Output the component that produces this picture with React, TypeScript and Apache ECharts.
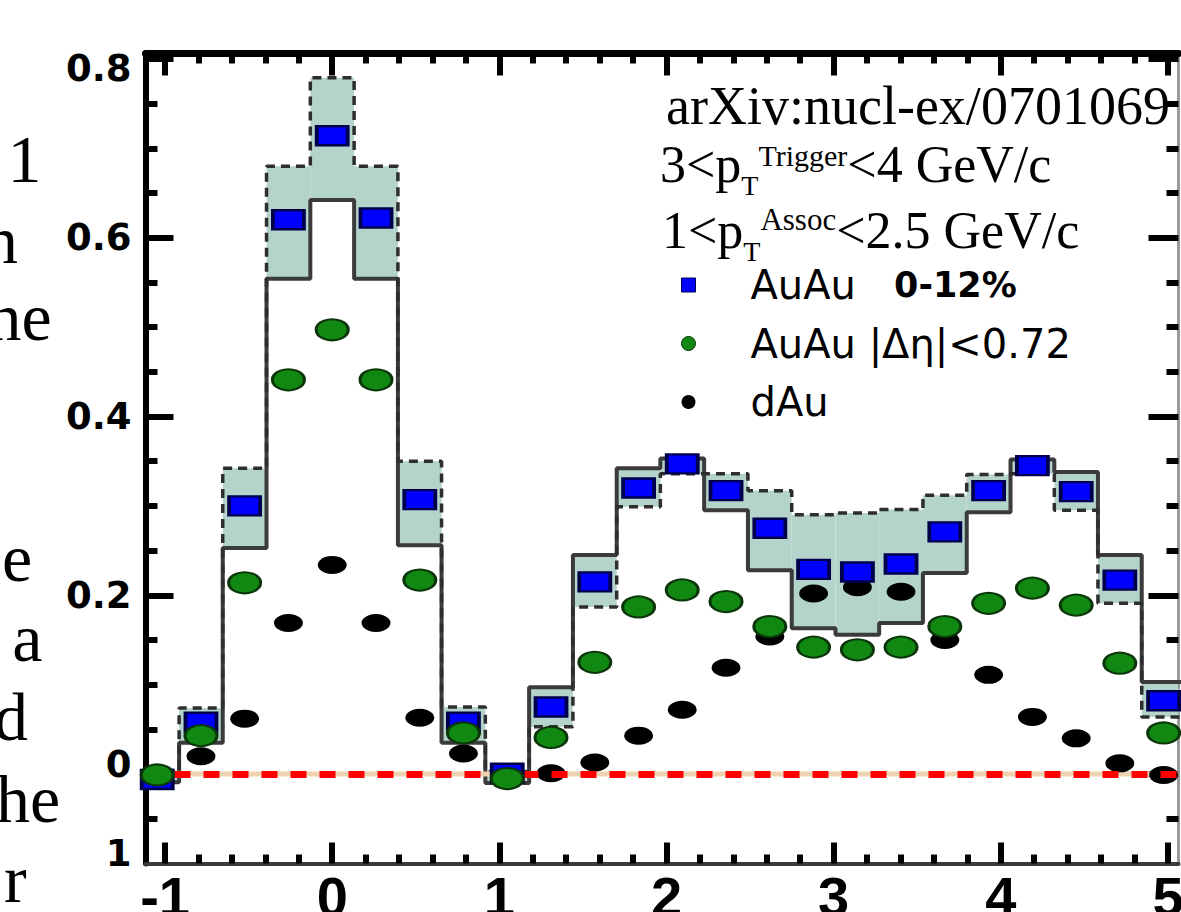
import React, { useEffect, useRef } from "react";
import * as echarts from "echarts";

// ---- data ----
// Δφ bin centres (rad); bins are π/12 wide
const BIN_CENTERS = [
  -1.047, -0.785, -0.524, -0.262, 0.0, 0.262, 0.524, 0.785, 1.047, 1.309, 1.571, 1.833,
  2.094, 2.356, 2.618, 2.88, 3.142, 3.403, 3.665, 3.927, 4.189, 4.451, 4.712, 4.974,
];
const BIN_HALF_WIDTH = 0.1309;

const AUAU_CENTRAL = [
  -0.006, 0.058, 0.3, 0.62, 0.714, 0.622, 0.307, 0.058, 0.001, 0.075, 0.215, 0.32,
  0.347, 0.317, 0.275, 0.229, 0.226, 0.235, 0.271, 0.317, 0.345, 0.316, 0.217, 0.082,
];
const AUAU_DETA = [
  -0.001, 0.043, 0.214, 0.441, 0.497, 0.441, 0.217, 0.046, -0.005, 0.041, 0.125, 0.187,
  0.206, 0.193, 0.165, 0.142, 0.139, 0.142, 0.165, 0.191, 0.208, 0.189, 0.124, 0.046,
];
const DAU = [
  -0.004, 0.02, 0.062, 0.169, 0.234, 0.169, 0.063, 0.023, -0.004, 0.001, 0.013, 0.043,
  0.072, 0.119, 0.154, 0.202, 0.209, 0.204, 0.15, 0.111, 0.064, 0.04, 0.012, -0.001,
];
// systematic band edges: solid-line histogram and dashed-line histogram
const SYS_SOLID = [
  -0.009, 0.035, 0.253, 0.554, 0.642, 0.554, 0.256, 0.035, -0.01, 0.097, 0.245, 0.342,
  0.353, 0.295, 0.228, 0.163, 0.156, 0.169, 0.225, 0.293, 0.352, 0.338, 0.245, 0.103,
];
const SYS_DASHED = [
  0.004, 0.074, 0.342, 0.68, 0.779, 0.68, 0.35, 0.075, 0.003, 0.053, 0.187, 0.299,
  0.336, 0.336, 0.317, 0.29, 0.292, 0.296, 0.312, 0.335, 0.336, 0.295, 0.191, 0.064,
];

const SERIES_NAMES = ["AuAu 0-12%", "AuAu |Δη|<0.72", "dAu"];

const X_MIN = -1.117;
const X_MAX = 5.063;
const Y_MIN = -0.1;
const Y_MAX = 0.806;

const X_MAJOR_TICKS = [-1, 0, 1, 2, 3, 4, 5];
const X_TICK_LABELS = ["-1", "0", "1", "2", "3", "4", "5"];
const X_MINOR_TICKS = [
  -0.8, -0.6, -0.4, -0.2, 0.2, 0.4, 0.6, 0.8, 1.2, 1.4, 1.6, 1.8, 2.2, 2.4, 2.6, 2.8,
  3.2, 3.4, 3.6, 3.8, 4.2, 4.4, 4.6, 4.8,
];
const Y_MAJOR_TICKS = [0, 0.2, 0.4, 0.6, 0.8];
const Y_MINOR_TICKS = [-0.05, 0.05, 0.1, 0.15, 0.25, 0.3, 0.35, 0.45, 0.5, 0.55, 0.65, 0.7, 0.75];
const Y_LABEL_VALUES = [-0.1, 0, 0.2, 0.4, 0.6, 0.8];
const Y_TICK_LABELS = ["1", "0", "0.2", "0.4", "0.6", "0.8"];

const ANNOT_ARXIV = "arXiv:nucl-ex/0701069";
const ANNOT_TRIGGER = ["3<p", "T", "Trigger", "<4 GeV/c"];
const ANNOT_ASSOC = ["1<p", "T", "Assoc", "<2.5 GeV/c"];

// fragments of the surrounding page text, clipped at the left edge
const PAPER_FRAGMENTS = ["1", "n", "ne", "e", "f a", "d", "he", "r"];
const PAPER_FRAGMENT_POS = [
  [7.5, 182], [-16, 263], [-12.6, 340], [2, 581], [-27.3, 661], [-6, 740], [-4, 822], [4, 902],
];

const SERIF = "'Liberation Serif', 'Times New Roman', serif";
const SANS = "'Liberation Sans', Arial, sans-serif";
const WIDE_SANS = "'DejaVu Sans', Verdana, sans-serif";

function stepData(vals: number[]) {
  const pts = BIN_CENTERS.map((c, i) => [c - BIN_HALF_WIDTH, vals[i]]);
  const last = BIN_CENTERS.length - 1;
  pts.push([BIN_CENTERS[last] + BIN_HALF_WIDTH, vals[last]]);
  return pts;
}

function points(vals: number[]) {
  return BIN_CENTERS.map((c, i) => [c, vals[i]]);
}

function renderBand(params: any, api: any) {
  const c = api.value(0);
  const lo = api.value(1);
  const hi = api.value(2);
  const p1 = api.coord([c - BIN_HALF_WIDTH, hi]);
  const p2 = api.coord([c + BIN_HALF_WIDTH, lo]);
  const cs = params.coordSys;
  const shape = echarts.graphic.clipRectByRect(
    { x: p1[0], y: p1[1], width: p2[0] - p1[0], height: p2[1] - p1[1] },
    { x: cs.x, y: cs.y, width: cs.width, height: cs.height }
  );
  return shape ? { type: "rect", shape, style: { fill: "#b3d3cb" } } : undefined;
}

function buildOption() {
  const hidden = {
    type: "value",
    min: X_MIN,
    max: X_MAX,
    splitLine: { show: false },
    axisLine: { show: false, onZero: false },
    axisLabel: { show: false },
    axisTick: { show: false },
    minorTick: { show: false },
  };
  const hiddenY = { ...hidden, min: Y_MIN, max: Y_MAX };

  const tick = (values: number[], length: number, width = 6) => ({
    show: true,
    inside: true,
    length,
    customValues: values,
    lineStyle: { color: "#000", width },
  });

  const yLabelFormatter = (v: number) => {
    const i = Y_LABEL_VALUES.findIndex((t) => Math.abs(t - v) < 1e-6);
    const txt = i >= 0 ? Y_TICK_LABELS[i] : String(v);
    if (i === 0 || i === 1) return `{lo|${txt}}`;
    if (i === Y_LABEL_VALUES.length - 1) return `{hi|${txt}}`;
    return `{n|${txt}}`;
  };
  const yLabelFont = { fontFamily: WIDE_SANS, fontWeight: "bold", fontSize: 37, color: "#000", lineHeight: 38 };

  const bandData = BIN_CENTERS.map((c, i) => [
    c,
    Math.min(SYS_SOLID[i], SYS_DASHED[i]),
    Math.max(SYS_SOLID[i], SYS_DASHED[i]),
  ]);

  const richLine = (supSize: number, supPadTop: number) => ({
    b: { fontFamily: SERIF, fontSize: 52, lineHeight: 70, fill: "#000" },
    sub: { fontFamily: SERIF, fontSize: 28, verticalAlign: "bottom", fill: "#000" },
    sup: {
      fontFamily: SERIF,
      fontSize: supSize,
      verticalAlign: "top",
      padding: [supPadTop, 0, 0, 0],
      fill: "#000",
    },
  });

  const graphics: any[] = [
    {
      type: "text",
      x: 666,
      y: 124 - 0.3375 * 54,
      silent: true,
      style: { text: ANNOT_ARXIV, font: `54px ${SERIF}`, fill: "#000", verticalAlign: "middle", align: "left" },
    },
    {
      type: "text",
      x: 660,
      y: 129.5,
      silent: true,
      style: {
        text: `{b|${ANNOT_TRIGGER[0]}}{sub|${ANNOT_TRIGGER[1]}}{sup|${ANNOT_TRIGGER[2]}}{b|${ANNOT_TRIGGER[3]}}`,
        rich: richLine(30, 10.5),
        verticalAlign: "top",
        align: "left",
      },
    },
    {
      type: "text",
      x: 662,
      y: 195.5,
      silent: true,
      style: {
        text: `{b|${ANNOT_ASSOC[0]}}{sub|${ANNOT_ASSOC[1]}}{sup|${ANNOT_ASSOC[2]}}{b|${ANNOT_ASSOC[3]}}`,
        rich: richLine(31, 8.6),
        verticalAlign: "top",
        align: "left",
      },
    },
    ...PAPER_FRAGMENTS.map((t, i) => ({
      type: "text",
      x: PAPER_FRAGMENT_POS[i][0],
      y: PAPER_FRAGMENT_POS[i][1] - 0.3375 * 68,
      silent: true,
      style: { text: t, font: `68px ${SERIF}`, fill: "#000", verticalAlign: "middle", align: "left" },
    })),
  ];

  return {
    animation: false,
    backgroundColor: "#ffffff",
    grid: {
      left: 145.5,
      right: 2.5,
      top: 53.5,
      bottom: 48.5,
      containLabel: false,
      outerBoundsMode: "none",
    },
    legend: {
      orient: "vertical",
      left: 681,
      top: 265,
      padding: 0,
      itemGap: 18.5,
      itemWidth: 14,
      itemHeight: 14,
      selectedMode: false,
      data: [
        { name: SERIES_NAMES[0], icon: "rect", itemStyle: { borderWidth: 1 } },
        { name: SERIES_NAMES[1], icon: "circle", itemStyle: { borderWidth: 1 } },
        { name: SERIES_NAMES[2], icon: "circle" },
      ],
      formatter: (name: string) =>
        name === SERIES_NAMES[0] ? "AuAu   {b|0-12%}" : name,
      textStyle: {
        fontFamily: WIDE_SANS,
        fontSize: 40,
        lineHeight: 40,
        color: "#000",
        padding: [0, 0, 0, 50],
        rich: {
          b: { fontFamily: WIDE_SANS, fontWeight: "bold", fontSize: 35, lineHeight: 40, color: "#000" },
        },
      },
    },
    xAxis: [
      {
        ...hidden,
        position: "bottom",
        axisLine: { show: true, onZero: false, lineStyle: { color: "#3a3a3a", width: 4 } },
        axisTick: tick(X_MAJOR_TICKS, 21),
        axisLabel: {
          show: true,
          customValues: X_MAJOR_TICKS,
          formatter: (v: number) => {
            const i = X_MAJOR_TICKS.findIndex((t) => Math.abs(t - v) < 1e-6);
            return i >= 0 ? X_TICK_LABELS[i] : String(v);
          },
          margin: 5,
          color: "#000",
          fontFamily: SANS,
          fontWeight: "bold",
          fontSize: 56,
        },
      },
      { ...hidden, position: "bottom", axisTick: tick(X_MINOR_TICKS, 9) },
      {
        ...hidden,
        position: "top",
        axisLine: { show: true, onZero: false, lineStyle: { color: "#000", width: 7 } },
        axisTick: tick(X_MAJOR_TICKS, 22),
      },
      { ...hidden, position: "top", axisTick: tick(X_MINOR_TICKS, 10) },
    ],
    yAxis: [
      {
        ...hiddenY,
        position: "left",
        axisLine: { show: true, onZero: false, lineStyle: { color: "#000", width: 6 } },
        axisTick: tick(Y_MAJOR_TICKS, 28),
        axisLabel: {
          show: true,
          customValues: Y_LABEL_VALUES,
          formatter: yLabelFormatter,
          margin: 14,
          ...yLabelFont,
          rich: {
            n: { ...yLabelFont },
            lo: { ...yLabelFont, padding: [0, 0, 20, 0] },
            hi: { ...yLabelFont, padding: [20, 0, 0, 0] },
          },
        },
      },
      { ...hiddenY, position: "left", axisTick: tick(Y_MINOR_TICKS, 12) },
      {
        ...hiddenY,
        position: "right",
        axisLine: { show: true, onZero: false, lineStyle: { color: "#9a9a9a", width: 3 } },
        axisTick: tick(Y_MAJOR_TICKS, 30),
      },
      { ...hiddenY, position: "right", axisTick: tick(Y_MINOR_TICKS, 12) },
    ],
    series: [
      {
        type: "custom",
        name: "systematic band",
        renderItem: renderBand,
        data: bandData,
        encode: { x: 0, y: [1, 2] },
        silent: true,
        z: 1,
      },
      {
        type: "line",
        name: "sys solid",
        step: "end",
        data: stepData(SYS_SOLID),
        symbol: "none",
        silent: true,
        lineStyle: { color: "#3b3b3b", width: 4 },
        z: 2,
      },
      {
        type: "line",
        name: "sys dashed",
        step: "end",
        data: stepData(SYS_DASHED),
        symbol: "none",
        silent: true,
        lineStyle: { color: "#2e2e2e", width: 3.5, type: [9, 6] },
        z: 2,
      },
      {
        type: "line",
        name: "zero",
        data: [[X_MIN, 0], [X_MAX, 0]],
        symbol: "none",
        silent: true,
        lineStyle: { color: "#efd2b1", width: 5 },
        z: 3,
        markLine: {
          silent: true,
          symbol: ["none", "none"],
          label: { show: false },
          lineStyle: { color: "#ff0000", width: 7, type: [16, 13] },
          data: [{ yAxis: 0 }],
        },
      },
      {
        type: "scatter",
        name: SERIES_NAMES[2],
        data: points(DAU),
        symbol: "circle",
        symbolSize: [29, 18],
        itemStyle: { color: "#000000", opacity: 1 },
        z: 4,
      },
      {
        type: "scatter",
        name: SERIES_NAMES[0],
        data: points(AUAU_CENTRAL),
        symbol: "rect",
        symbolSize: [31, 19],
        itemStyle: { color: "#0000ff", borderColor: "#00004d", borderWidth: 3, opacity: 1 },
        z: 5,
      },
      {
        type: "scatter",
        name: SERIES_NAMES[1],
        data: points(AUAU_DETA),
        symbol: "circle",
        symbolSize: [32, 21],
        itemStyle: { color: "#118811", borderColor: "#0a360a", borderWidth: 2.5, opacity: 1 },
        z: 6,
      },
    ],
    graphic: graphics,
  };
}

export default function App() {
  const ref = useRef<HTMLDivElement | null>(null);
  useEffect(() => {
    document.body.style.margin = "0";
    if (!ref.current) return;
    const chart = echarts.init(ref.current, null, { renderer: "svg" });
    chart.setOption(buildOption() as any);
    return () => {
      chart.dispose();
    };
  }, []);
  return <div ref={ref} style={{ width: 1181, height: 912, overflow: "hidden" }} />;
}
